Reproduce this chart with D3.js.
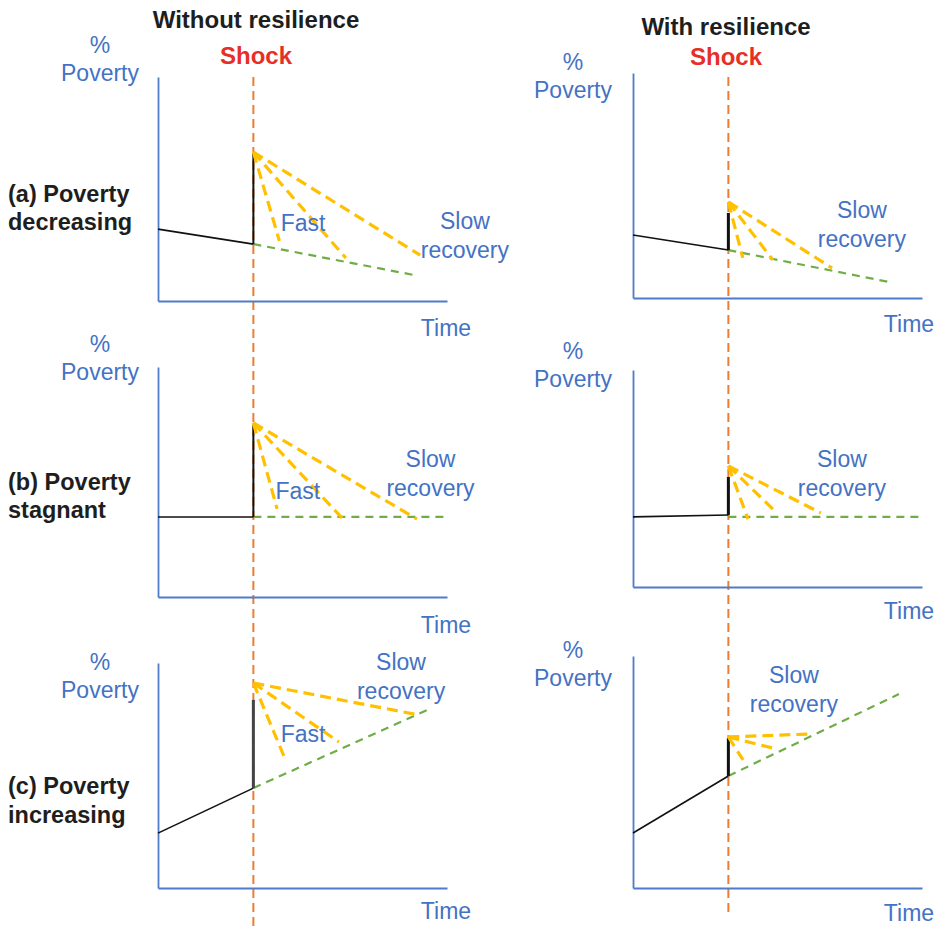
<!DOCTYPE html>
<html>
<head>
<meta charset="utf-8">
<script src="https://cdn.jsdelivr.net/npm/d3@7/dist/d3.min.js"></script>
<style>
  html, body { margin: 0; padding: 0; background: #fff; }
  svg { display: block; }
  text { font-family: "Liberation Sans", Arial, sans-serif; }
</style>
</head>
<body>
<svg id="chart" width="941" height="926"></svg>
<script>
// ---------------- DATA ----------------
const columnTitles = ["Without resilience", "With resilience"];
const shockLabel = "Shock";
const rowLabels = [["(a) Poverty", "decreasing"], ["(b) Poverty", "stagnant"], ["(c) Poverty", "increasing"]];
const yAxisLabel = ["%", "Poverty"];
const xAxisLabel = "Time";
const fastLabel = "Fast";
const slowLabel = ["Slow", "recovery"];

// time of the shock (time units 0-100)
const shockTime = 33;

// panel order: (a) without, (a) with, (b) without, (b) with, (c) without, (c) with
// poverty values (0-100 units of each panel's own axis)
const preShock = [
  [[0, 32.1], [33, 25.4]],
  [[0, 28.0], [33, 21.3]],
  [[0, 34.8], [33, 34.8]],
  [[0, 32.3], [33, 33.2]],
  [[0, 24.4], [33, 44.4]],
  [[0, 23.7], [33, 48.3]]
];
const jumpTop = [66.0, 37.8, 74.8, 50.7, 83.6, 64.7];
const peakValue = [66.5, 42.7, 75.7, 55.8, 91.1, 65.1];
const recoveryEnds = [
  [[42.0, 26.8], [65.0, 19.2], [90.7, 20.5]],
  [[38.0, 17.8], [48.4, 16.9], [68.9, 13.3]],
  [[41.2, 38.3], [64.0, 33.9], [89.6, 33.9]],
  [[39.8, 31.3], [49.8, 34.1], [65.0, 34.1]],
  [[44.3, 56.4], [62.6, 64.9], [90.3, 76.9]],
  [[38.1, 55.2], [48.4, 60.3], [61.6, 66.4]]
];
const trendStart = [25.4, 21.3, 34.8, 32.3, 44.4, 48.3];
const trendEnd = [[88.6, 11.6], [88.6, 7.1], [100, 34.8], [99.3, 32.3], [93.1, 79.1], [92.0, 83.6]];
// annotation anchors (time, poverty)
const fastPos = [[50.2, 31.2], null, [48.4, 42.6], null, [50.2, 64.9], null];
const slowPos = [[106.2, 32.1], [79.2, 35.6], [94.3, 56.5], [72.3, 55.3], [84.1, 96.9], [55.7, 88.4]];

// ---------------- LAYOUT ----------------
const frames = [
  { x0: 158, x1: 447, y0: 77,  y1: 301 },
  { x0: 633, x1: 922, y0: 73,  y1: 298 },
  { x0: 158, x1: 447, y0: 367, y1: 597 },
  { x0: 633, x1: 922, y0: 370, y1: 587 },
  { x0: 158, x1: 447, y0: 663, y1: 888 },
  { x0: 633, x1: 922, y0: 656, y1: 888 }
];
const pctBaseline = [53, 70, 352, 359, 670, 658];
const timeBaseline = [336, 332, 633, 619, 919, 921];
const timeCenterOffset = [-1, -13, -1, -13, -1, -13];
const rowBaselines = [[202, 230], [490, 518], [794, 823]];
const colTitlePos = [{ x: 256, y: 28 }, { x: 726, y: 35 }];
const shockTextPos = [{ x: 256, y: 64 }, { x: 726, y: 65 }];
const shockLineY = [[77, 926], [77, 912]];

const C = {
  blue: "#4472C4",
  axis: "#4F7BC8",
  orange: "#ED7D31",
  yellow: "#FFC000",
  green: "#70AD47",
  red: "#E63027",
  dark: "#1E1E1E"
};

const svg = d3.select("#chart");

// column titles and shock labels
[0, 1].forEach(c => {
  svg.append("text")
    .attr("x", colTitlePos[c].x).attr("y", colTitlePos[c].y)
    .attr("text-anchor", "middle")
    .attr("font-size", 24).attr("font-weight", "bold")
    .attr("fill", C.dark)
    .text(columnTitles[c]);
  svg.append("text")
    .attr("x", shockTextPos[c].x).attr("y", shockTextPos[c].y)
    .attr("text-anchor", "middle")
    .attr("font-size", 24).attr("font-weight", "bold")
    .attr("fill", C.red)
    .text(shockLabel);
});

// row labels
rowLabels.forEach((lines, r) => {
  lines.forEach((s, i) => {
    svg.append("text")
      .attr("x", 8).attr("y", rowBaselines[r][i])
      .attr("font-size", 23.5).attr("font-weight", "bold")
      .attr("fill", C.dark)
      .text(s);
  });
});

// shock lines (beneath the marks)
[0, 1].forEach(c => {
  const f = frames[c];
  const x = d3.scaleLinear().domain([0, 100]).range([f.x0, f.x1]);
  svg.append("line")
    .attr("x1", x(shockTime)).attr("x2", x(shockTime))
    .attr("y1", shockLineY[c][0]).attr("y2", shockLineY[c][1])
    .attr("stroke", C.orange).attr("stroke-width", 2)
    .attr("stroke-dasharray", "9,5");
});

// panels
frames.forEach((f, i) => {
  const x = d3.scaleLinear().domain([0, 100]).range([f.x0, f.x1]);
  const y = d3.scaleLinear().domain([0, 100]).range([f.y1, f.y0]);
  const g = svg.append("g");

  // axes (domain lines only)
  const ax = g.append("g").attr("transform", `translate(0,${f.y1})`)
    .call(d3.axisBottom(x).tickValues([]).tickSizeOuter(0));
  const ay = g.append("g").attr("transform", `translate(${f.x0},0)`)
    .call(d3.axisLeft(y).tickValues([]).tickSizeOuter(0));
  [ax, ay].forEach(a => a.select(".domain").attr("stroke", C.axis).attr("stroke-width", 1.8));

  // axis labels
  const lx = i % 2 === 0 ? 100 : 573;
  g.append("text").attr("x", lx).attr("y", pctBaseline[i])
    .attr("text-anchor", "middle").attr("font-size", 23).attr("fill", C.blue).text(yAxisLabel[0]);
  g.append("text").attr("x", lx).attr("y", pctBaseline[i] + 28)
    .attr("text-anchor", "middle").attr("font-size", 23).attr("fill", C.blue).text(yAxisLabel[1]);
  g.append("text").attr("x", f.x1 + timeCenterOffset[i]).attr("y", timeBaseline[i])
    .attr("text-anchor", "middle").attr("font-size", 23).attr("fill", C.blue).text(xAxisLabel);

  const line = d3.line().x(d => x(d[0])).y(d => y(d[1]));

  // green trend
  g.append("path")
    .attr("d", line([[shockTime, trendStart[i]], trendEnd[i]]))
    .attr("fill", "none").attr("stroke", C.green).attr("stroke-width", 2.2)
    .attr("stroke-dasharray", "8,6");

  // black pre-shock
  g.append("path")
    .attr("d", line(preShock[i]))
    .attr("fill", "none").attr("stroke", "#111").attr("stroke-width", 1.6);
  // black jump
  g.append("path")
    .attr("d", line([[shockTime, preShock[i][1][1]], [shockTime, jumpTop[i]]]))
    .attr("fill", "none").attr("stroke", i === 4 ? "#444" : "#111")
    .attr("stroke-width", i % 2 === 0 ? (i === 4 ? 3 : 2) : 3);

  // yellow recovery paths
  recoveryEnds[i].forEach(e => {
    g.append("path")
      .attr("d", line([[shockTime, peakValue[i]], e]))
      .attr("fill", "none").attr("stroke", C.yellow).attr("stroke-width", 3.2)
      .attr("stroke-dasharray", "11,6");
  });

  // annotations
  if (fastPos[i]) {
    g.append("text").attr("x", x(fastPos[i][0])).attr("y", y(fastPos[i][1]))
      .attr("text-anchor", "middle").attr("font-size", 23).attr("fill", C.blue).text(fastLabel);
  }
  slowLabel.forEach((s, k) => {
    g.append("text").attr("x", x(slowPos[i][0])).attr("y", y(slowPos[i][1]) + k * 29)
      .attr("text-anchor", "middle").attr("font-size", 23).attr("fill", C.blue).text(s);
  });
});
</script>
</body>
</html>
